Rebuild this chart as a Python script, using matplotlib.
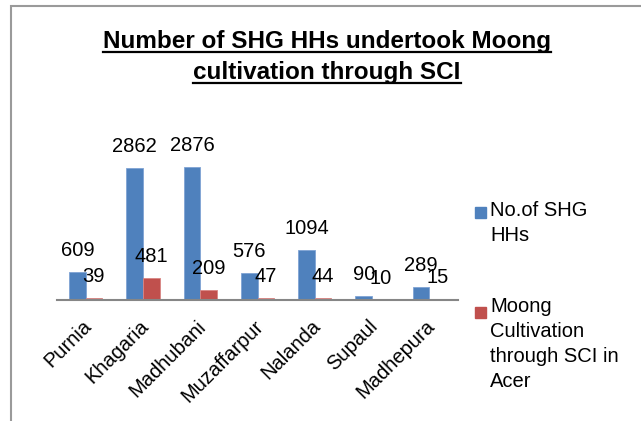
import matplotlib
matplotlib.use('Agg')
import matplotlib.pyplot as plt
import matplotlib.transforms as mtrans
import numpy as np
from matplotlib.patches import Rectangle
from matplotlib.lines import Line2D

plt.rcParams['font.family'] = ['Liberation Sans', 'DejaVu Sans']

districts = ['Purnia', 'Khagaria', 'Madhubani', 'Muzaffarpur', 'Nalanda', 'Supaul', 'Madhepura']
shg_hhs = [609, 2862, 2876, 576, 1094, 90, 289]
moong_acer = [39, 481, 209, 47, 44, 10, 15]
series_names = ['No.of SHG\nHHs', 'Moong\nCultivation\nthrough SCI in\nAcer']
title_lines = ['Number of SHG HHs undertook Moong', 'cultivation through SCI']

blue = '#4F81BD'
red = '#C0504D'

W, H = 641, 421
fig = plt.figure(figsize=(W / 100, H / 100), dpi=100)

# chart area frame (only top and left edges are visible in the crop)
fig.patches.append(Rectangle((11 / W, -0.1), 1.2, 1 - 6 / H + 0.1, transform=fig.transFigure,
                             fill=False, edgecolor='#9a9a9a', linewidth=1.5))

ax = fig.add_axes([57 / W, 1 - 300 / H, (458 - 57) / W, 138.3 / H])
x = np.arange(len(districts))
w = 0.29
b1 = ax.bar(x - w / 2, shg_hhs, w, color=blue, edgecolor='#7fa3d4', linewidth=0.6)
b2 = ax.bar(x + w / 2, moong_acer, w, color=red, edgecolor='#d98583', linewidth=0.6)

for bars, vals in ((b1, shg_hhs), (b2, moong_acer)):
    for r, v in zip(bars, vals):
        ax.annotate(str(v), (r.get_x() + r.get_width() / 2, v), xytext=(0, 15.5),
                    textcoords='offset points', ha='center', va='center', fontsize=14.5)

ax.set_xlim(-0.5, len(districts) - 0.5)
ax.set_ylim(0, 3000)
ax.set_xticks(x)
ax.set_xticklabels(districts, rotation=45, ha='right', va='top', rotation_mode='anchor', fontsize=14.5)
ax.tick_params(axis='x', length=0, pad=12)
shift = mtrans.ScaledTranslation(-3 / 72, 0, fig.dpi_scale_trans)
for lab in ax.get_xticklabels():
    lab.set_transform(lab.get_transform() + shift)
ax.set_yticks([])
for s in ['top', 'right', 'left']:
    ax.spines[s].set_visible(False)
ax.spines['bottom'].set_color('#868686')
ax.spines['bottom'].set_linewidth(1.5)
ax.set_facecolor('none')

# title with underline
fig.canvas.draw()
renderer = fig.canvas.get_renderer()
for line, base in zip(title_lines, [48.3, 79.0]):
    t = fig.text(327 / W, 1 - base / H, line, ha='center', va='baseline',
                 fontsize=17.5, fontweight='bold')
    bb = t.get_window_extent(renderer)
    uy = 1 - (base + 4) / H
    fig.lines.append(Line2D([bb.x0 / W, bb.x1 / W], [uy, uy], transform=fig.transFigure,
                            color='black', linewidth=1.6))

# legend (multi-line text placed by the baseline of its last line)
for name, col, sq_top, base in zip(series_names, [blue, red], [207, 307], [241.0, 386.7]):
    fig.patches.append(Rectangle((475 / W, 1 - (sq_top + 11) / H), 11 / W, 11 / H,
                                 transform=fig.transFigure, color=col))
    fig.text(490 / W, 1 - base / H, name, ha='left', va='baseline', fontsize=14.5,
             linespacing=1.4)

fig.savefig('out.png', dpi=100)
